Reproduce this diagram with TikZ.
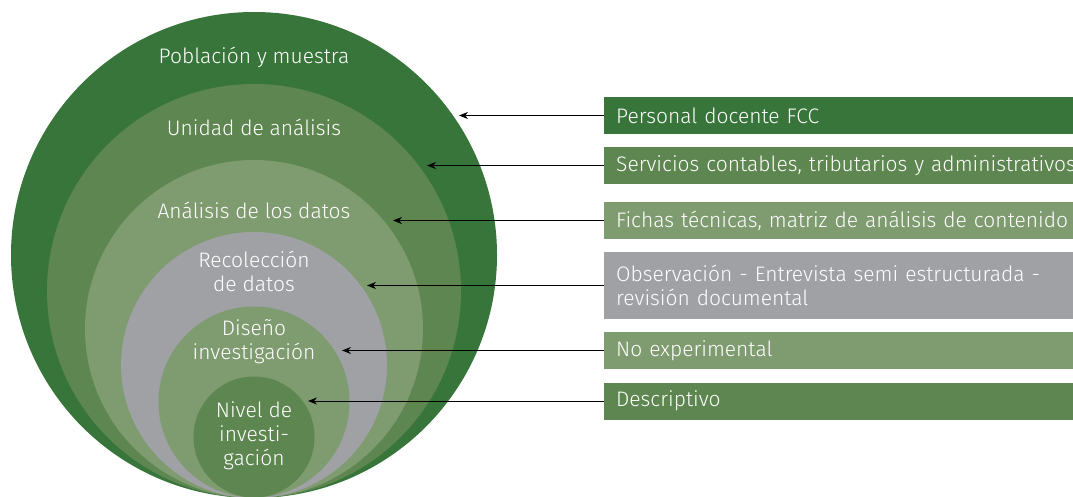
\documentclass[tikz,border=0pt]{standalone}
\usepackage{fontspec}
\setmainfont{Fira Sans Light}
\usetikzlibrary{arrows.meta}
\definecolor{darkgreen}{RGB}{56,117,58}
\definecolor{midgreen}{RGB}{94,134,80}
\definecolor{lightgreen}{RGB}{127,155,112}
\definecolor{greyring}{RGB}{160,161,165}

\begin{document}
\begin{tikzpicture}[x=1pt, y=-1pt,
    ring/.style={circle, inner sep=0pt, minimum size=#1},
    ringlabel/.style={text=white, align=center, font=\fontsize{21}{24}\selectfont},
    infobox/.style={rectangle, anchor=west, inner xsep=12pt, inner ysep=0pt, minimum height=37pt, text width=500pt, text=white, align=left, font=\fontsize{21}{24}\selectfont},
    arrow/.style={-{Stealth[length=9pt, width=7pt]}, line width=0.8pt}
]
\useasboundingbox (0,0) rectangle (1073,497);

% Nested circles, all touching at the bottom
\node[ring=486pt, fill=darkgreen] (c1) at (254,255) {};
\node[ring=414pt, fill=midgreen] (c2) at (254,291) {};
\node[ring=338pt, fill=lightgreen] (c3) at (254,329) {};
\node[ring=266pt, fill=greyring] (c4) at (254,365) {};
\node[ring=191pt, fill=lightgreen] (c5) at (254,402) {};
\node[ring=121pt, fill=midgreen] (c6) at (254,437) {};

% Circle labels
\node[ringlabel] (l1) at (254,57) {Población y muestra};
\node[ringlabel] (l2) at (254,127) {Unidad de análisis};
\node[ringlabel] (l3) at (254,210) {Análisis de los datos};
\node[ringlabel] (l4) at (254,271) {Recolección\\de datos};
\node[ringlabel] (l5) at (254,342) {Diseño\\investigación};
\node[ringlabel] (l6) at (254,436) {Nivel de\\investi-\\gación};

% Boxes on the right
\node[infobox, fill=darkgreen] (b1) at (604,115.5) {Personal docente FCC};
\node[infobox, fill=midgreen] (b2) at (604,165.5) {Servicios contables, tributarios y administrativos};
\node[infobox, fill=lightgreen] (b3) at (604,220.5) {Fichas técnicas, matriz de análisis de contenido};
\node[infobox, fill=greyring, minimum height=67pt] (b4) at (604,285.5) {Observación - Entrevista semi estructurada -\\revisión documental};
\node[infobox, fill=lightgreen] (b5) at (604,350.5) {No experimental};
\node[infobox, fill=midgreen] (b6) at (604,401) {Descriptivo};

% Arrow tips on the rings
\coordinate (t1) at (459,115.5);
\coordinate (t2) at (427,165.5);
\coordinate (t3) at (393,220.5);
\coordinate (t4) at (367,285.5);
\coordinate (t5) at (342,350.5);
\coordinate (t6) at (308,401);

\foreach \i in {1,...,6}
  \draw[arrow] (b\i.west) -- (t\i);

\end{tikzpicture}
\end{document}
